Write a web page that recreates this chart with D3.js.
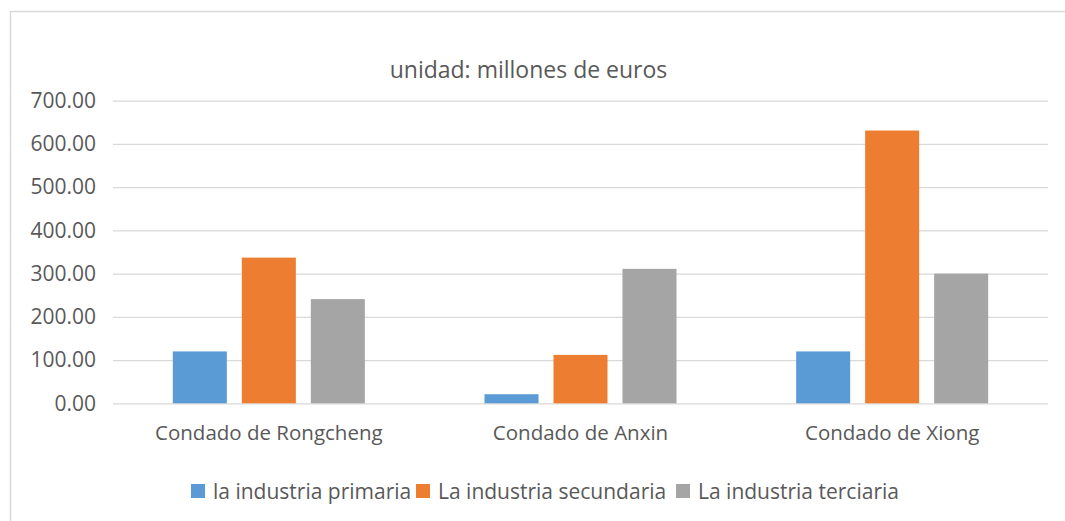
<!DOCTYPE html>
<html>
<head>
<meta charset="utf-8">
<script src="https://cdn.jsdelivr.net/npm/d3@7"></script>
<style>
  body { margin: 0; background: #fff; }
  text { font-family: "Open Sans", "Noto Sans", sans-serif; fill: #595959; }
</style>
</head>
<body>
<svg id="chart" width="1065" height="521"></svg>
<script>
// values, millones de euros
const counties = ['Condado de Rongcheng', 'Condado de Anxin', 'Condado de Xiong'];
const seriesNames = ['la industria primaria', 'La industria secundaria', 'La industria terciaria'];
const primaria = [120, 21, 120];
const secundaria = [337, 112, 631];
const terciaria = [241, 311, 300];
const yTicks = [0, 100, 200, 300, 400, 500, 600, 700];
const colors = ['#5b9bd5', '#ed7d31', '#a5a5a5'];

const seriesValues = [primaria, secundaria, terciaria];

const svg = d3.select('#chart');

// outer chart frame
svg.append('rect')
  .attr('x', 10.5).attr('y', 11.5)
  .attr('width', 1070).attr('height', 530)
  .attr('fill', 'none')
  .attr('stroke', '#d9d9d9')
  .attr('stroke-width', 1.5);

const plot = { left: 113, right: 1048, top: 100.7, bottom: 403.3 };

const x = d3.scaleBand()
  .domain(counties)
  .range([plot.left, plot.right]);

const xInner = d3.scaleBand()
  .domain(d3.range(seriesNames.length))
  .range([0, x.bandwidth()])
  .paddingInner(0.217)
  .paddingOuter(0.867);

const y = d3.scaleLinear()
  .domain([0, 700])
  .range([plot.bottom, plot.top]);

// gridlines + tick labels
const yAxis = svg.append('g')
  .attr('transform', `translate(${plot.left},0)`)
  .call(d3.axisLeft(y)
    .tickValues(yTicks)
    .tickFormat(d3.format('.2f'))
    .tickSize(-(plot.right - plot.left))
    .tickPadding(17));
yAxis.select('.domain').remove();
yAxis.selectAll('line').attr('stroke', '#d9d9d9').attr('stroke-width', 1.3);
yAxis.selectAll('text')
  .attr('font-size', 21)
  .attr('fill', '#595959')
  .style('font-family', '"Open Sans", sans-serif');

// bars
const groups = svg.append('g').selectAll('g')
  .data(counties)
  .join('g')
  .attr('transform', d => `translate(${x(d)},0)`);

groups.selectAll('rect')
  .data((d, i) => seriesValues.map((vals, s) => ({ s, v: vals[i] })))
  .join('rect')
  .attr('x', d => xInner(d.s))
  .attr('width', xInner.bandwidth())
  .attr('y', d => y(d.v))
  .attr('height', d => y(0) - y(d.v))
  .attr('fill', d => colors[d.s]);

// category labels
const xAxis = svg.append('g')
  .attr('transform', `translate(0,${plot.bottom})`)
  .call(d3.axisBottom(x).tickSize(0).tickPadding(22));
xAxis.select('.domain').remove();
xAxis.selectAll('text')
  .attr('font-size', 20.5)
  .attr('fill', '#595959')
  .style('font-family', '"Open Sans", sans-serif');

// title
svg.append('text')
  .attr('x', 528.5)
  .attr('y', 78)
  .attr('text-anchor', 'middle')
  .attr('font-size', 23)
  .text('unidad: millones de euros');

// legend
const legend = svg.append('g').attr('transform', 'translate(0,491)');
const legendX = [191, 416, 676];
const item = legend.selectAll('g')
  .data(seriesNames)
  .join('g')
  .attr('transform', (d, i) => `translate(${legendX[i]},0)`);
item.append('rect')
  .attr('x', 0).attr('y', -7)
  .attr('width', 14).attr('height', 14)
  .attr('fill', (d, i) => colors[i]);
item.append('text')
  .attr('x', 22)
  .attr('y', 7.5)
  .attr('font-size', 21)
  .text(d => d);
</script>
</body>
</html>
